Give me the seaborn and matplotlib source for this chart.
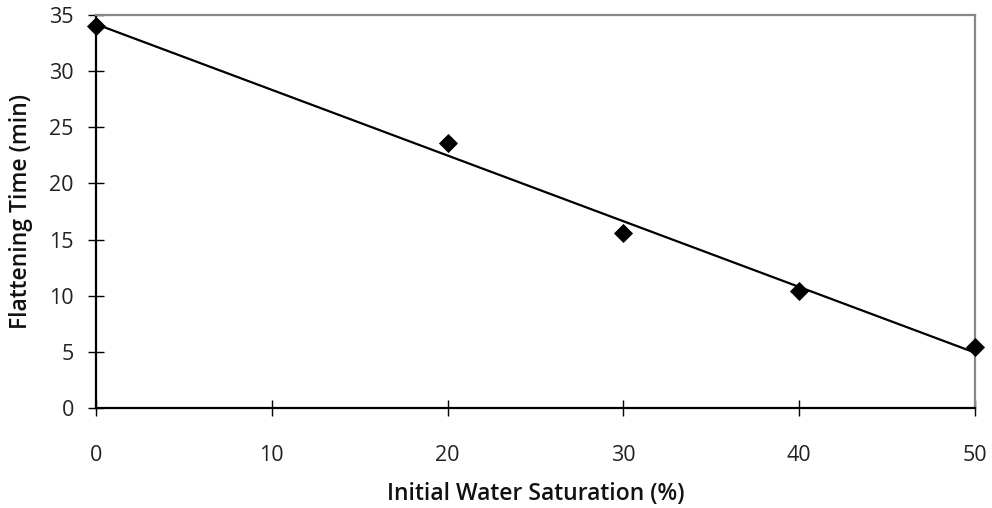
import numpy as np
import pandas as pd
import matplotlib
matplotlib.use("Agg")
import matplotlib.pyplot as plt
import seaborn as sns

# Initial water saturation (%) and measured flattening time (min)
saturation = [0, 20, 30, 40, 50]
flattening_time = [34.0, 23.6, 15.6, 10.4, 5.4]

x_ticks = [0, 10, 20, 30, 40, 50]
y_ticks = [0, 5, 10, 15, 20, 25, 30, 35]

df = pd.DataFrame({"saturation": saturation, "time": flattening_time})

sns.set_theme(style="white")
plt.rcParams["font.family"] = ["Open Sans", "DejaVu Sans"]

fig = plt.figure(figsize=(9.92, 5.08), dpi=100)
ax = fig.add_axes([0.0968, 0.197, 0.886, 0.7735])

# Linear trend line through the measurements
sns.regplot(data=df, x="saturation", y="time", ax=ax, scatter=False, ci=None,
            truncate=True, line_kws={"color": "black", "linewidth": 1.6})

sns.scatterplot(data=df, x="saturation", y="time", ax=ax, marker="D", s=95,
                color="black", edgecolor="black", linewidth=0, zorder=5,
                clip_on=False)

ax.set_xlim(0, 50)
ax.set_ylim(0, 35)
ax.set_xticks(x_ticks)
ax.set_yticks(y_ticks)

ax.tick_params(axis="both", direction="inout", length=12, width=1.0,
               color="black", labelsize=15.5, labelcolor="#222222",
               left=True, bottom=True)
ax.tick_params(axis="x", pad=21)
ax.tick_params(axis="y", pad=10)

for side in ("left", "bottom"):
    ax.spines[side].set_color("black")
    ax.spines[side].set_linewidth(1.6)
for side in ("top", "right"):
    ax.spines[side].set_visible(True)
    ax.spines[side].set_color("#888888")
    ax.spines[side].set_linewidth(1.6)

ax.set_xlabel("Initial Water Saturation (%)", fontsize=16.5,
              fontfamily="Open Sans", fontweight="semibold", labelpad=11,
              color="#111111")
ax.set_ylabel("Flattening Time (min)", fontsize=16.5,
              fontfamily="Open Sans", fontweight="semibold", labelpad=12,
              color="#111111")

fig.savefig("out.png", dpi=100)
